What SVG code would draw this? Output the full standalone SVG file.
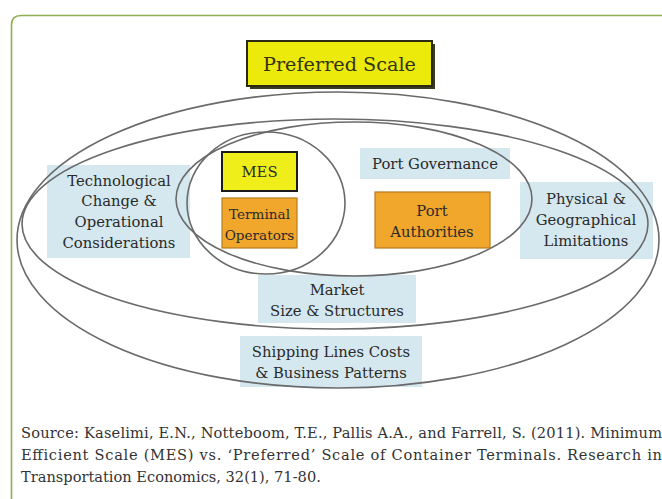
<svg xmlns="http://www.w3.org/2000/svg" width="662" height="499" viewBox="0 0 662 499">
<style>
.ring{fill:none;stroke:#6a6a6a;stroke-width:1.6}
.blue{fill:#d5e8f0}
.orange{fill:#f1a72c;stroke:#b87a1e;stroke-width:1.2}
.yellow{fill:#f0ee1a;stroke:#1a1a1a;stroke-width:2}
text{font-family:'DejaVu Serif','Liberation Serif',serif;font-size:14.8px;fill:#2a2a2a}
.t{text-anchor:middle}
.sm{font-size:13.6px}
.src{fill:#333;font-size:14.6px}
</style>
<rect width="662" height="499" fill="#ffffff"/>
<path d="M11.5 499 V25 Q11.5 15.5 21 15.5 H662" fill="none" stroke="#8fb052" stroke-width="1.6"/>
<g id="tech">
<rect class="blue" x="47" y="165" width="143" height="93"/>
<text class="t" x="119" y="186">Technological</text>
<text class="t" x="119" y="206">Change &amp;</text>
<text class="t" x="119" y="227">Operational</text>
<text class="t" x="119" y="248">Considerations</text>
</g>
<g id="physical">
<rect class="blue" x="520" y="182" width="133" height="77"/>
<text class="t" x="586" y="204">Physical &amp;</text>
<text class="t" x="586" y="225">Geographical</text>
<text class="t" x="586" y="246">Limitations</text>
</g>
<g id="governance">
<rect class="blue" x="360" y="148" width="150" height="31"/>
<text class="t" x="435" y="169">Port Governance</text>
</g>
<g id="market">
<rect class="blue" x="258" y="275" width="158" height="48"/>
<text class="t" x="337" y="295">Market</text>
<text class="t" x="337" y="316">Size &amp; Structures</text>
</g>
<g id="shipping">
<rect class="blue" x="240" y="336" width="182" height="51"/>
<text class="t" x="331" y="357">Shipping Lines Costs</text>
<text class="t" x="331" y="378">&amp; Business Patterns</text>
</g>
<g id="rings">
<ellipse class="ring" cx="338" cy="240" rx="321" ry="148"/>
<ellipse class="ring" cx="335" cy="224" rx="313" ry="105"/>
<ellipse class="ring" cx="354" cy="199" rx="178" ry="77"/>
<ellipse class="ring" cx="266" cy="203" rx="79" ry="71"/>
</g>
<g id="mes">
<rect class="yellow" x="222" y="152" width="75" height="39"/>
<text class="t" x="259.5" y="177">MES</text>
</g>
<g id="terminal">
<rect class="orange" x="222" y="198" width="75" height="50"/>
<text class="t sm" x="259.5" y="219">Terminal</text>
<text class="t sm" x="259.5" y="240">Operators</text>
</g>
<g id="authorities">
<rect class="orange" x="375" y="192" width="115" height="56"/>
<text class="t" x="432" y="216">Port</text>
<text class="t" x="432" y="237">Authorities</text>
</g>
<g id="preferred">
<rect x="250" y="44" width="185" height="45" fill="#3a3a1e"/>
<rect x="247" y="41" width="185" height="45" fill="#ecea0a" stroke="#2a2a14" stroke-width="2"/>
<text class="t" x="339.5" y="71" textLength="153" lengthAdjust="spacingAndGlyphs" style="font-size:19px;fill:#333318">Preferred Scale</text>
</g>
<g id="source">
<text class="src" x="21" y="438" textLength="641" lengthAdjust="spacing">Source: Kaselimi, E.N., Notteboom, T.E., Pallis A.A., and Farrell, S. (2011). Minimum</text>
<text class="src" x="21" y="460" textLength="641" lengthAdjust="spacing">Efficient Scale (MES) vs. ‘Preferred’ Scale of Container Terminals. Research in</text>
<text class="src" x="21" y="482">Transportation Economics, 32(1), 71-80.</text>
</g>
</svg>
